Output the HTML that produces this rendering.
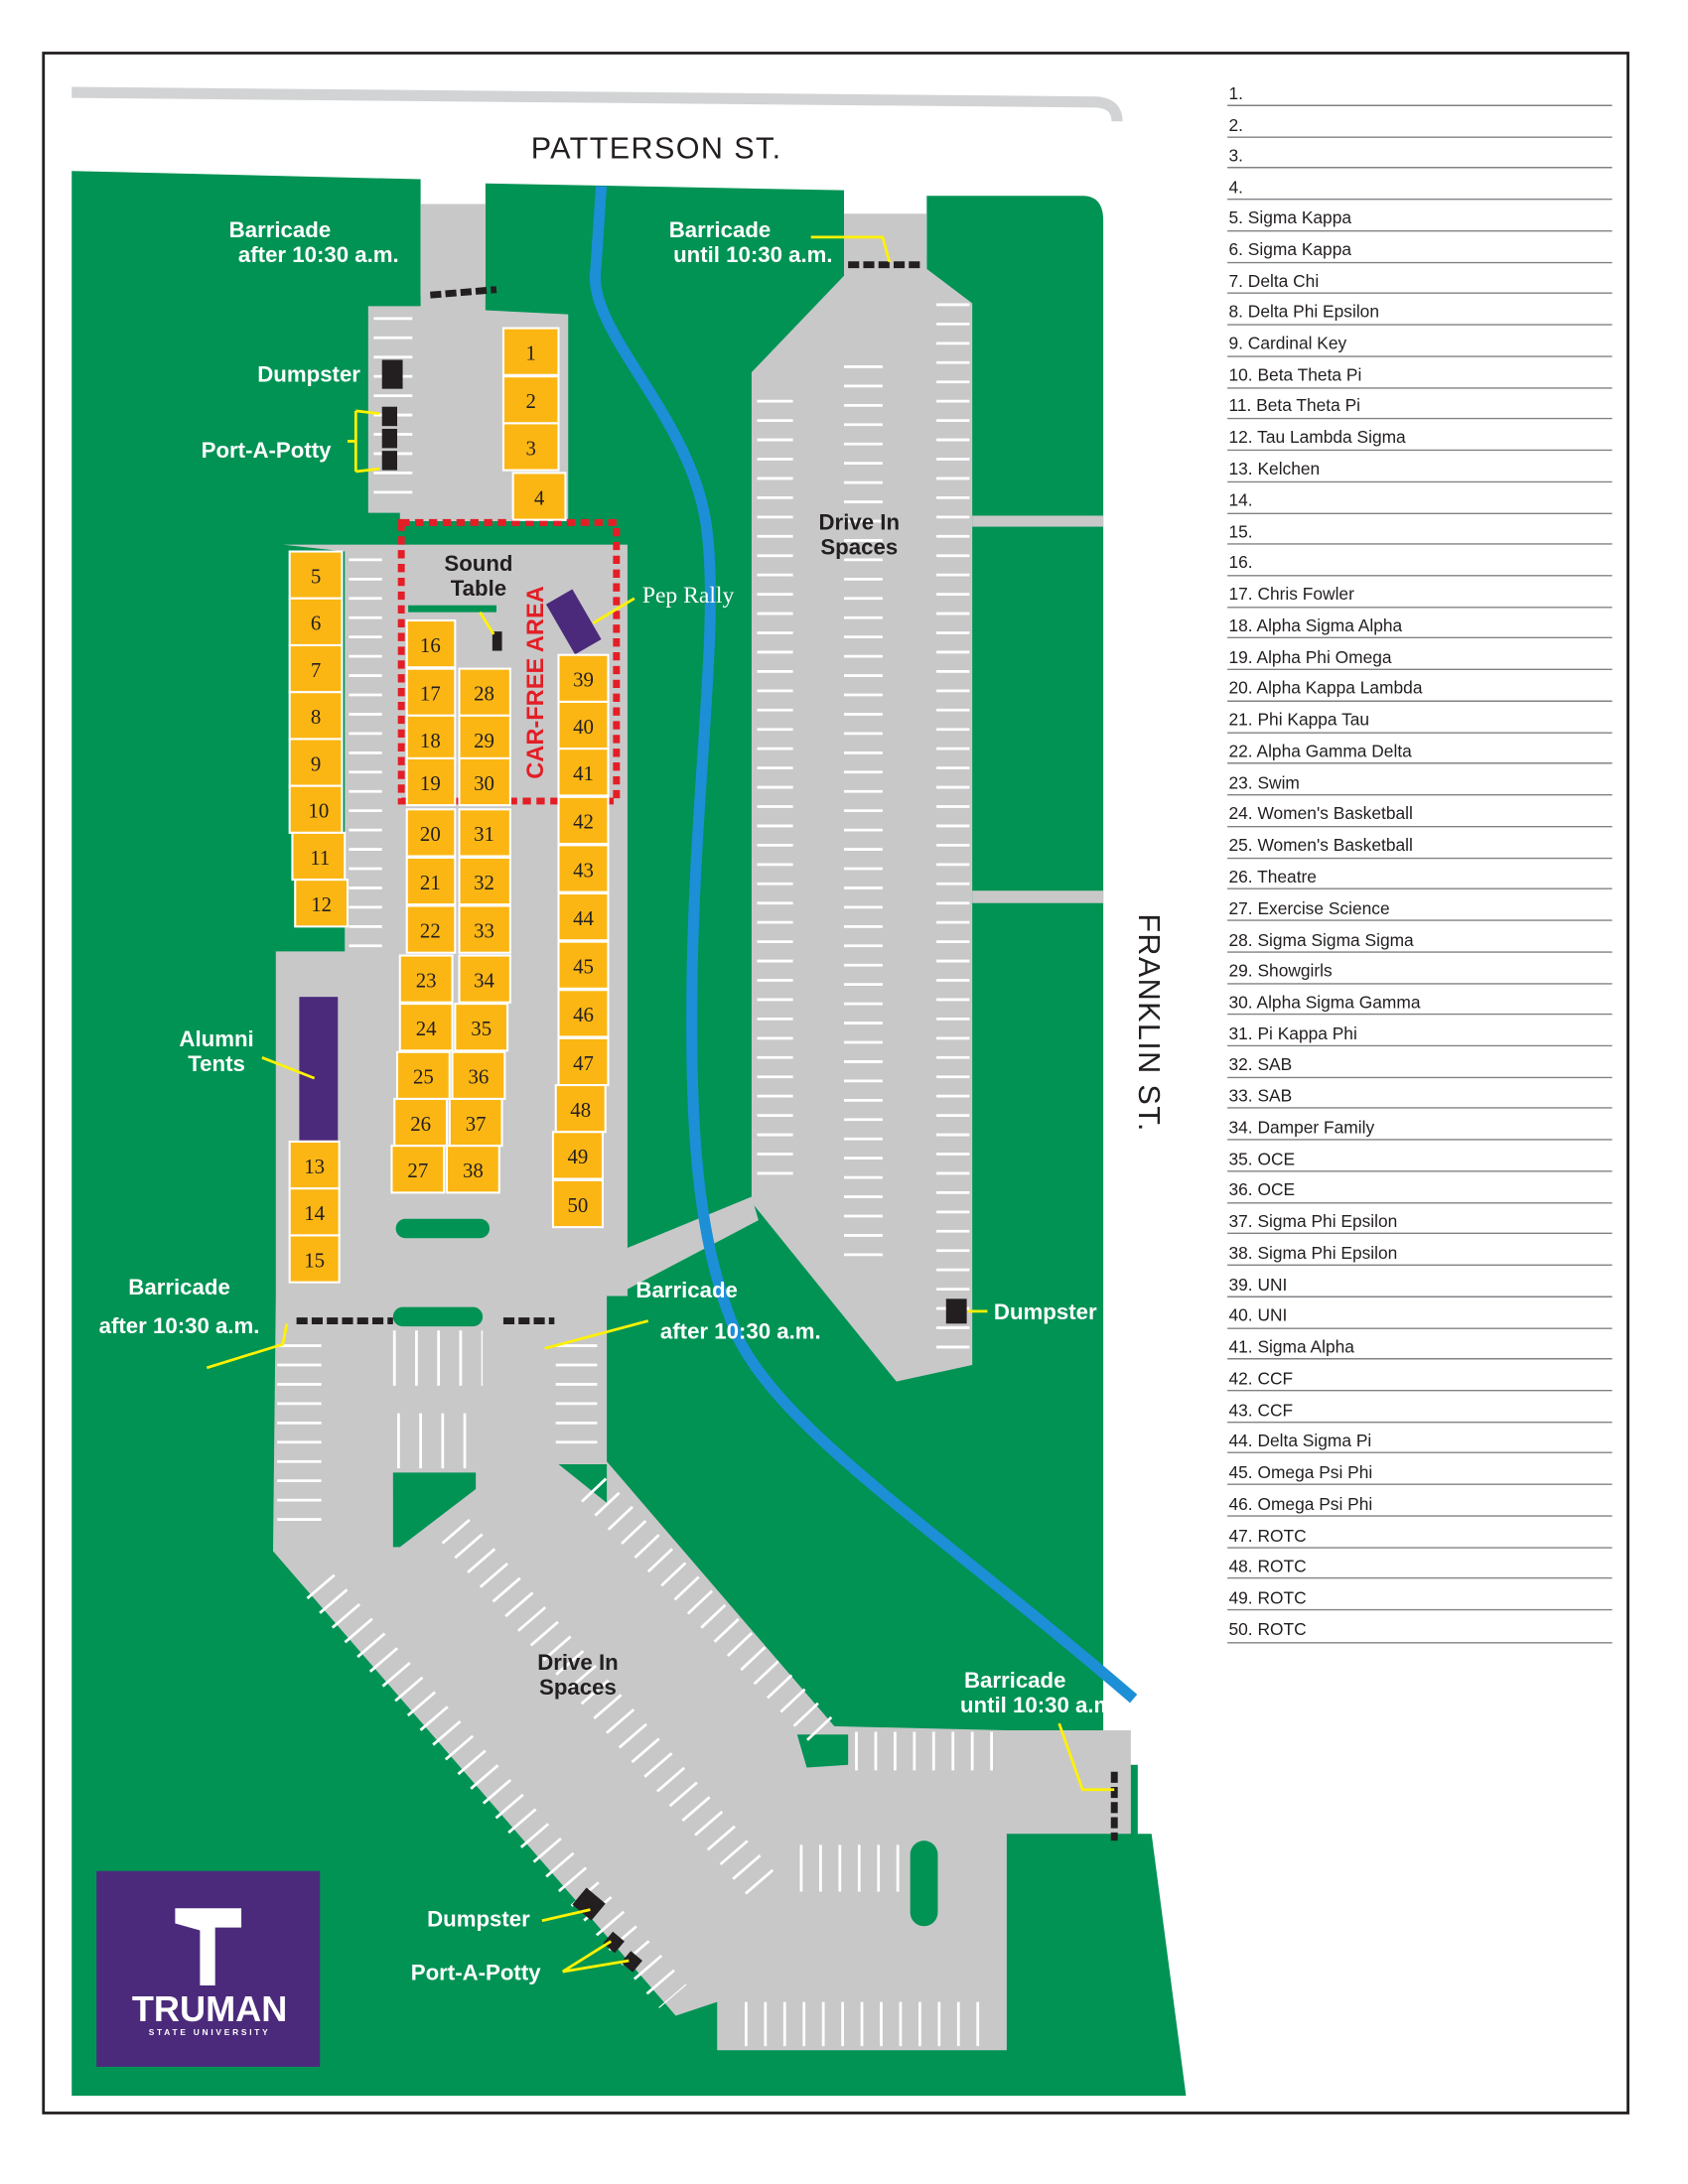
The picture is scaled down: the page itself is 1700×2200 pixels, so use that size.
<!DOCTYPE html>
<html><head><meta charset="utf-8"><style>
html,body{margin:0;padding:0;background:#fff;}
svg{display:block;}
.w{fill:#fff;font-family:"Liberation Sans",sans-serif;font-weight:bold;font-size:16px;text-anchor:middle;}
.d{fill:#231f20;font-family:"Liberation Sans",sans-serif;font-weight:bold;font-size:16px;text-anchor:middle;}
.n{fill:#231f20;font-family:"Liberation Serif",serif;font-size:15px;text-anchor:middle;}
.lg{fill:#231f20;font-family:"Liberation Sans",sans-serif;font-size:12.5px;}
.st{stroke:#fff;fill:none;}
</style></head><body>
<svg width="1700" height="2200" viewBox="0 0 1224 1584" xmlns="http://www.w3.org/2000/svg">
<rect x="0" y="0" width="1224" height="1584" fill="#fff"/>
<rect x="31.5" y="38.5" width="1149" height="1494" fill="none" stroke="#231f20" stroke-width="2"/>
<!-- Patterson road -->
<path d="M52,67 L795,74 Q810,75 810,88" fill="none" stroke="#d1d3d4" stroke-width="8"/>
<text x="476" y="115" style="font-family:'Liberation Sans',sans-serif;font-size:22px;letter-spacing:1px;fill:#231f20" text-anchor="middle">PATTERSON ST.</text>
<!-- green base -->
<path d="M52,124 L305,130 L305,215 L352,215 L352,133 L612,138 L612,200 L672,200 L672,142 L785,142 Q800,142 800,160 L800,1280 L825,1280 L825,1330 L835,1330 L860,1520 L52,1520 Z" fill="#009354"/>
<!-- gray lots -->
<g fill="#c8c8c9">
<path d="M305,148 L352,148 L352,225 L412,228 L412,378 L290,378 L290,372 L267,372 L267,222 L305,222 Z"/>
<path d="M205,395 L455,395 L455,905 L545,868 L550,885 L455,935 L455,940 L200,940 L200,690 L250,690 L250,400 Z"/>
<path d="M200,940 L440,940 L440,1060 L605,1252 L730,1255 L820,1255 L820,1330 L730,1330 L730,1487 L520,1487 L520,1452 L490,1462 L198,1125 Z"/>
<path d="M612,155 L672,155 L672,195 L705,220 L705,990 L650,1002 L545,872 L545,270 L612,200 Z"/>
<rect x="705" y="374" width="95" height="8"/>
<rect x="705" y="646" width="95" height="9"/>
</g>
<!-- green islands in lower lot -->
<g fill="#009354">
<path d="M285,1068 L345,1068 L345,1080 L290,1122 L285,1122 Z"/>
<path d="M405,1062 L440,1062 L440,1090 Z"/>
<path d="M578,1258 L615,1258 L615,1280 L585,1282 Z"/>
<rect x="660" y="1335" width="20" height="62" rx="10"/>
<rect x="287" y="884" width="68" height="14" rx="7"/>
<rect x="285" y="948" width="65" height="14" rx="7"/>
</g>
<!-- parking stripes (dash trick) -->
<g class="st">
<line x1="562" y1="290" x2="562" y2="860" stroke-width="26" stroke-dasharray="2 12"/>
<line x1="626" y1="265" x2="626" y2="920" stroke-width="28" stroke-dasharray="2 12"/>
<line x1="691" y1="220" x2="691" y2="980" stroke-width="24" stroke-dasharray="2 12"/>
<line x1="285" y1="230" x2="285" y2="370" stroke-width="28" stroke-dasharray="2 12"/>
<line x1="265" y1="405" x2="265" y2="690" stroke-width="24" stroke-dasharray="2 12"/>
<line x1="217" y1="975" x2="217" y2="1105" stroke-width="32" stroke-dasharray="2 12"/>
<line x1="418" y1="975" x2="418" y2="1050" stroke-width="30" stroke-dasharray="2 12"/>
<line x1="285" y1="985" x2="350" y2="985" stroke-width="40" stroke-dasharray="2 14"/>
<line x1="288" y1="1045" x2="350" y2="1045" stroke-width="40" stroke-dasharray="2 14"/>
<line x1="232" y1="1150" x2="488" y2="1448" stroke-width="26" stroke-dasharray="2 12"/>
<line x1="330" y1="1110" x2="555" y2="1370" stroke-width="26" stroke-dasharray="2 12"/>
<line x1="430" y1="1080" x2="600" y2="1260" stroke-width="24" stroke-dasharray="2 12"/>
<line x1="620" y1="1270" x2="722" y2="1270" stroke-width="28" stroke-dasharray="2 12"/>
<line x1="580" y1="1355" x2="655" y2="1355" stroke-width="34" stroke-dasharray="2 12"/>
<line x1="540" y1="1468" x2="722" y2="1468" stroke-width="32" stroke-dasharray="2 12"/>
</g>
<!-- river -->
<path d="M436,135 L432,195 C425,240 500,300 512,380 C522,450 505,560 502,700 C500,820 505,900 535,970 C570,1040 680,1110 822,1232" fill="none" stroke="#1c8fd6" stroke-width="8"/>
<!-- car-free area -->
<rect x="291" y="379" width="156" height="202" fill="none" stroke="#e31e26" stroke-width="5" stroke-dasharray="6 4"/>
<text transform="translate(394,495) rotate(-90)" style="font-family:'Liberation Sans',sans-serif;font-weight:bold;font-size:17px;fill:#e31e26" text-anchor="middle">CAR-FREE AREA</text>
<rect x="296" y="439" width="64" height="5" fill="#009354"/>
<rect x="357" y="458" width="7" height="14" fill="#231f20"/>
<line x1="348" y1="444" x2="358" y2="460" stroke="#fff200" stroke-width="2"/>
<!-- pep rally -->
<rect x="405" y="430" width="22" height="42" fill="#4b2a7b" transform="rotate(-30 416 451)"/>
<line x1="430" y1="452" x2="460" y2="434" stroke="#fff200" stroke-width="2"/>
<text x="499" y="437" style="font-family:'Liberation Serif',serif;font-size:17px;fill:#fff" text-anchor="middle">Pep Rally</text>
<!-- alumni tents -->
<rect x="217" y="723" width="28" height="104" fill="#4b2a7b"/>
<!-- slots -->
<g fill="#fbb614" stroke="#fff" stroke-width="1.5">
<rect x="365" y="238" width="40" height="34"/><rect x="365" y="273" width="40" height="34"/><rect x="365" y="307" width="40" height="34"/><rect x="372" y="343" width="38" height="34"/>
<rect x="210" y="400" width="38" height="34"/><rect x="210" y="434" width="38" height="34"/><rect x="210" y="468" width="38" height="34"/><rect x="210" y="502" width="38" height="34"/><rect x="210" y="536" width="38" height="34"/><rect x="210" y="570" width="38" height="34"/><rect x="212" y="604" width="38" height="34"/><rect x="214" y="638" width="38" height="34"/>
<rect x="210" y="828" width="36" height="34"/><rect x="210" y="862" width="36" height="34"/><rect x="210" y="896" width="36" height="34"/>
<rect x="295" y="450" width="35" height="34"/><rect x="295" y="485" width="35" height="34"/><rect x="295" y="519" width="35" height="34"/><rect x="295" y="550" width="35" height="34"/><rect x="295" y="587" width="35" height="34"/><rect x="295" y="622" width="35" height="34"/><rect x="295" y="657" width="35" height="34"/><rect x="290" y="693" width="38" height="34"/><rect x="290" y="728" width="38" height="34"/><rect x="288" y="763" width="38" height="34"/><rect x="286" y="797" width="38" height="34"/><rect x="284" y="831" width="38" height="34"/>
<rect x="333" y="485" width="37" height="34"/><rect x="333" y="519" width="37" height="34"/><rect x="333" y="550" width="37" height="34"/><rect x="333" y="587" width="37" height="34"/><rect x="333" y="622" width="37" height="34"/><rect x="333" y="657" width="37" height="34"/><rect x="333" y="693" width="37" height="34"/><rect x="330" y="728" width="38" height="34"/><rect x="328" y="763" width="38" height="34"/><rect x="326" y="797" width="38" height="34"/><rect x="324" y="831" width="38" height="34"/>
<rect x="405" y="475" width="36" height="34"/><rect x="405" y="509" width="36" height="34"/><rect x="405" y="543" width="36" height="34"/><rect x="405" y="578" width="36" height="34"/><rect x="405" y="613" width="36" height="34"/><rect x="405" y="648" width="36" height="34"/><rect x="405" y="683" width="36" height="34"/><rect x="405" y="718" width="36" height="34"/><rect x="405" y="753" width="36" height="34"/><rect x="403" y="787" width="36" height="34"/><rect x="401" y="821" width="36" height="34"/><rect x="401" y="856" width="36" height="34"/>
</g>
<g class="n">
<text x="385" y="261">1</text><text x="385" y="296">2</text><text x="385" y="330">3</text><text x="391" y="366">4</text>
<text x="229" y="423">5</text><text x="229" y="457">6</text><text x="229" y="491">7</text><text x="229" y="525">8</text><text x="229" y="559">9</text><text x="231" y="593">10</text><text x="232" y="627">11</text><text x="233" y="661">12</text>
<text x="228" y="851">13</text><text x="228" y="885">14</text><text x="228" y="919">15</text>
<text x="312" y="473">16</text><text x="312" y="508">17</text><text x="312" y="542">18</text><text x="312" y="573">19</text><text x="312" y="610">20</text><text x="312" y="645">21</text><text x="312" y="680">22</text><text x="309" y="716">23</text><text x="309" y="751">24</text><text x="307" y="786">25</text><text x="305" y="820">26</text><text x="303" y="854">27</text>
<text x="351" y="508">28</text><text x="351" y="542">29</text><text x="351" y="573">30</text><text x="351" y="610">31</text><text x="351" y="645">32</text><text x="351" y="680">33</text><text x="351" y="716">34</text><text x="349" y="751">35</text><text x="347" y="786">36</text><text x="345" y="820">37</text><text x="343" y="854">38</text>
<text x="423" y="498">39</text><text x="423" y="532">40</text><text x="423" y="566">41</text><text x="423" y="601">42</text><text x="423" y="636">43</text><text x="423" y="671">44</text><text x="423" y="706">45</text><text x="423" y="741">46</text><text x="423" y="776">47</text><text x="421" y="810">48</text><text x="419" y="844">49</text><text x="419" y="879">50</text>
</g>
<!-- barricades -->
<g stroke="#231f20" stroke-width="5" stroke-dasharray="8 3" fill="none">
<line x1="312" y1="214" x2="360" y2="210"/>
<line x1="615" y1="192" x2="668" y2="192"/>
<line x1="215" y1="958" x2="285" y2="958"/>
<line x1="365" y1="958" x2="402" y2="958"/>
<line x1="808" y1="1285" x2="808" y2="1335"/>
</g>
<!-- dumpsters/potties -->
<g fill="#231f20">
<rect x="277" y="261" width="15" height="21"/>
<rect x="277" y="295" width="11" height="14"/><rect x="277" y="311" width="11" height="14"/><rect x="277" y="327" width="11" height="14"/>
<rect x="686" y="942" width="15" height="18"/>
<rect x="418" y="1373" width="18" height="16" transform="rotate(40 427 1381)"/>
<rect x="440" y="1403" width="11" height="11" transform="rotate(40 445 1408)"/>
<rect x="453" y="1417" width="11" height="11" transform="rotate(40 458 1422)"/>
</g>
<!-- leaders -->
<g stroke="#fff200" stroke-width="2" fill="none">
<path d="M588,172 L640,172 L645,190"/>
<path d="M258,298 L258,342 M258,298 L275,300 M258,342 L275,340 M252,320 L258,320"/>
<path d="M190,767 L228,782"/>
<path d="M150,992 L205,975 L208,960"/>
<path d="M395,978 L470,958"/>
<path d="M702,951 L716,951"/>
<path d="M768,1250 L785,1298 L808,1298"/>
<path d="M393,1393 L428,1385"/>
<path d="M408,1430 L443,1408 M408,1430 L456,1422"/>
</g>
<!-- labels -->
<text class="w" x="203" y="172">Barricade</text><text class="w" x="231" y="190">after 10:30 a.m.</text>
<text class="w" x="522" y="172">Barricade</text><text class="w" x="546" y="190">until 10:30 a.m.</text>
<text class="w" x="224" y="277">Dumpster</text>
<text class="w" x="193" y="332">Port-A-Potty</text>
<text class="d" x="347" y="414">Sound</text><text class="d" x="347" y="432">Table</text>
<text class="d" x="623" y="384">Drive In</text><text class="d" x="623" y="402">Spaces</text>
<text class="w" x="157" y="759">Alumni</text><text class="w" x="157" y="777">Tents</text>
<text class="w" x="130" y="939">Barricade</text><text class="w" x="130" y="967">after 10:30 a.m.</text>
<text class="w" x="498" y="941">Barricade</text><text class="w" x="537" y="971">after 10:30 a.m.</text>
<text class="w" x="758" y="957">Dumpster</text>
<text class="d" x="419" y="1211">Drive In</text><text class="d" x="419" y="1229">Spaces</text>
<text class="w" x="736" y="1224">Barricade</text><text class="w" x="754" y="1242">until 10:30 a.m.</text>
<text class="w" x="347" y="1397">Dumpster</text>
<text class="w" x="345" y="1436">Port-A-Potty</text>
<text transform="translate(826,742) rotate(90)" style="font-family:'Liberation Sans',sans-serif;font-size:22px;letter-spacing:1px;fill:#231f20" text-anchor="middle">FRANKLIN ST.</text>
<!-- logo -->
<rect x="70" y="1357" width="162" height="142" fill="#4b2a7b"/>
<path d="M127,1384 L175,1384 L175,1398 L156,1398 L156,1440 L145,1440 L145,1400 L127,1395 Z" fill="#fff"/>
<text x="152" y="1466" style="font-family:'Liberation Sans',sans-serif;font-weight:bold;font-size:26px;fill:#fff" text-anchor="middle">TRUMAN</text>
<text x="152" y="1476" style="font-family:'Liberation Sans',sans-serif;font-weight:bold;font-size:6px;letter-spacing:2px;fill:#fff" text-anchor="middle">STATE UNIVERSITY</text>
<!-- legend -->
<g class="lg">
<text x="891" y="72">1.</text><text x="891" y="95">2.</text><text x="891" y="117">3.</text><text x="891" y="140">4.</text>
<text x="891" y="162">5. Sigma Kappa</text><text x="891" y="185">6. Sigma Kappa</text><text x="891" y="208">7. Delta Chi</text><text x="891" y="230">8. Delta Phi Epsilon</text><text x="891" y="253">9. Cardinal Key</text><text x="891" y="276">10. Beta Theta Pi</text><text x="891" y="298">11. Beta Theta Pi</text><text x="891" y="321">12. Tau Lambda Sigma</text><text x="891" y="344">13. Kelchen</text><text x="891" y="367">14.</text><text x="891" y="390">15.</text><text x="891" y="412">16.</text><text x="891" y="435">17. Chris Fowler</text><text x="891" y="458">18. Alpha Sigma Alpha</text><text x="891" y="481">19. Alpha Phi Omega</text><text x="891" y="503">20. Alpha Kappa Lambda</text><text x="891" y="526">21. Phi Kappa Tau</text><text x="891" y="549">22. Alpha Gamma Delta</text><text x="891" y="572">23. Swim</text><text x="891" y="594">24. Women's Basketball</text><text x="891" y="617">25. Women's Basketball</text><text x="891" y="640">26. Theatre</text><text x="891" y="663">27. Exercise Science</text><text x="891" y="686">28. Sigma Sigma Sigma</text><text x="891" y="708">29. Showgirls</text><text x="891" y="731">30. Alpha Sigma Gamma</text><text x="891" y="754">31. Pi Kappa Phi</text><text x="891" y="776">32. SAB</text><text x="891" y="799">33. SAB</text><text x="891" y="822">34. Damper Family</text><text x="891" y="845">35. OCE</text><text x="891" y="867">36. OCE</text><text x="891" y="890">37. Sigma Phi Epsilon</text><text x="891" y="913">38. Sigma Phi Epsilon</text><text x="891" y="936">39. UNI</text><text x="891" y="958">40. UNI</text><text x="891" y="981">41. Sigma Alpha</text><text x="891" y="1004">42. CCF</text><text x="891" y="1027">43. CCF</text><text x="891" y="1049">44. Delta Sigma Pi</text><text x="891" y="1072">45. Omega Psi Phi</text><text x="891" y="1095">46. Omega Psi Phi</text><text x="891" y="1118">47. ROTC</text><text x="891" y="1140">48. ROTC</text><text x="891" y="1163">49. ROTC</text><text x="891" y="1186">50. ROTC</text>
</g>
<g stroke="#808285" stroke-width="1">
<path d="M890,76.5H1169M890,99.5H1169M890,121.5H1169M890,144.5H1169M890,167.5H1169M890,190.5H1169M890,212.5H1169M890,235.5H1169M890,258.5H1169M890,281.5H1169M890,303.5H1169M890,326.5H1169M890,349.5H1169M890,372.5H1169M890,394.5H1169M890,417.5H1169M890,440.5H1169M890,462.5H1169M890,485.5H1169M890,508.5H1169M890,531.5H1169M890,553.5H1169M890,576.5H1169M890,599.5H1169M890,622.5H1169M890,644.5H1169M890,667.5H1169M890,690.5H1169M890,713.5H1169M890,735.5H1169M890,758.5H1169M890,781.5H1169M890,803.5H1169M890,826.5H1169M890,849.5H1169M890,872.5H1169M890,894.5H1169M890,917.5H1169M890,940.5H1169M890,963.5H1169M890,985.5H1169M890,1008.5H1169M890,1031.5H1169M890,1053.5H1169M890,1076.5H1169M890,1099.5H1169M890,1122.5H1169M890,1144.5H1169M890,1167.5H1169M890,1191.5H1169"/>
</g>
</svg>
</body></html>
